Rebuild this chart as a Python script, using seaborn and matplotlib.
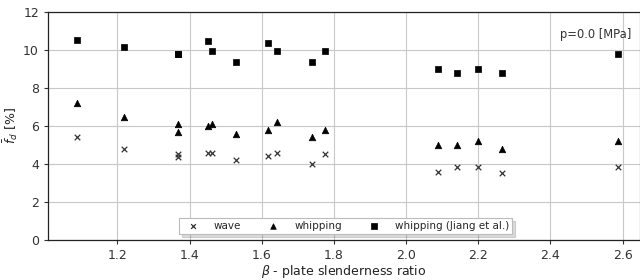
import numpy as np
import pandas as pd
import matplotlib
matplotlib.use("Agg")
import matplotlib.pyplot as plt
import seaborn as sns

# plate slenderness ratio for each test case
beta = [1.087, 1.218, 1.368, 1.368, 1.452, 1.462, 1.529, 1.617, 1.642,
        1.739, 1.774, 2.089, 2.140, 2.200, 2.266, 2.588]

wave = [5.4, 4.8, 4.55, 4.35, 4.6, 4.6, 4.2, 4.4, 4.6,
        4.0, 4.5, 3.6, 3.83, 3.83, 3.5, 3.83]
whipping = [7.2, 6.5, 6.1, 5.7, 6.0, 6.1, 5.6, 5.8, 6.2,
            5.4, 5.8, 5.0, 5.0, 5.2, 4.8, 5.2]
whipping_jiang = [10.53, 10.17, 9.77, 9.77, 10.5, 9.96, 9.39, 10.35, 9.96,
                  9.39, 9.96, 9.0, 8.8, 9.0, 8.8, 9.79]

series_names = ["wave", "whipping", "whipping (Jiang et al.)"]
x_ticks = [1.2, 1.4, 1.6, 1.8, 2.0, 2.2, 2.4, 2.6]
y_ticks = [0, 2, 4, 6, 8, 10, 12]

df = pd.DataFrame({
    "beta": beta * 3,
    "fd": wave + whipping + whipping_jiang,
    "series": np.repeat(series_names, len(beta)),
})

sns.set_style("whitegrid", {"grid.color": "#c8c8c8", "axes.edgecolor": "#222222"})
plt.rcParams["font.family"] = ["DejaVu Sans"]

fig = plt.figure(figsize=(6.4, 2.8), dpi=100)
ax = fig.add_axes([0.075, 0.143, 0.925, 0.814])

styles = {
    "wave": dict(marker="x", s=16, color="#333333", linewidth=0.9),
    "whipping": dict(marker="^", s=22, color="black", edgecolor="black", linewidth=0.5),
    "whipping (Jiang et al.)": dict(marker="s", s=22, color="black", edgecolor="black", linewidth=0.5),
}
for name in series_names:
    sub = df[df["series"] == name]
    sns.scatterplot(data=sub, x="beta", y="fd", ax=ax, label=name, **styles[name])

ax.set_xlim(1.008, 2.648)
ax.set_ylim(0, 12)
ax.set_xticks(x_ticks)
ax.set_yticks(y_ticks)
ax.tick_params(labelsize=9, colors="#333333", length=3, left=True, bottom=True)
ax.grid(True, linewidth=0.8)
for side in ["left", "bottom", "top"]:
    ax.spines[side].set_color("#222222")
    ax.spines[side].set_linewidth(0.9)

ax.set_xlabel(r"$\beta$ - plate slenderness ratio", fontsize=9, labelpad=1, color="#222222")
ax.set_ylabel(r"$\bar{f}_d$ [%]", fontsize=9, labelpad=2, color="#222222")

ax.text(0.985, 0.93, "p=0.0 [MPa]", transform=ax.transAxes, ha="right", va="top",
        fontsize=8.3, color="#333333")

leg = ax.legend(loc="lower center", bbox_to_anchor=(0.503, 0.026), ncol=3, fontsize=7.5,
                frameon=True, shadow={"alpha": 0.2, "ox": 2, "oy": -2}, fancybox=False,
                columnspacing=2.1, handletextpad=1.0, borderpad=0.3, markerscale=0.85,
                borderaxespad=0)
leg.get_frame().set_edgecolor("#bbbbbb")
leg.get_frame().set_linewidth(0.8)

fig.savefig("out.png", dpi=100)
